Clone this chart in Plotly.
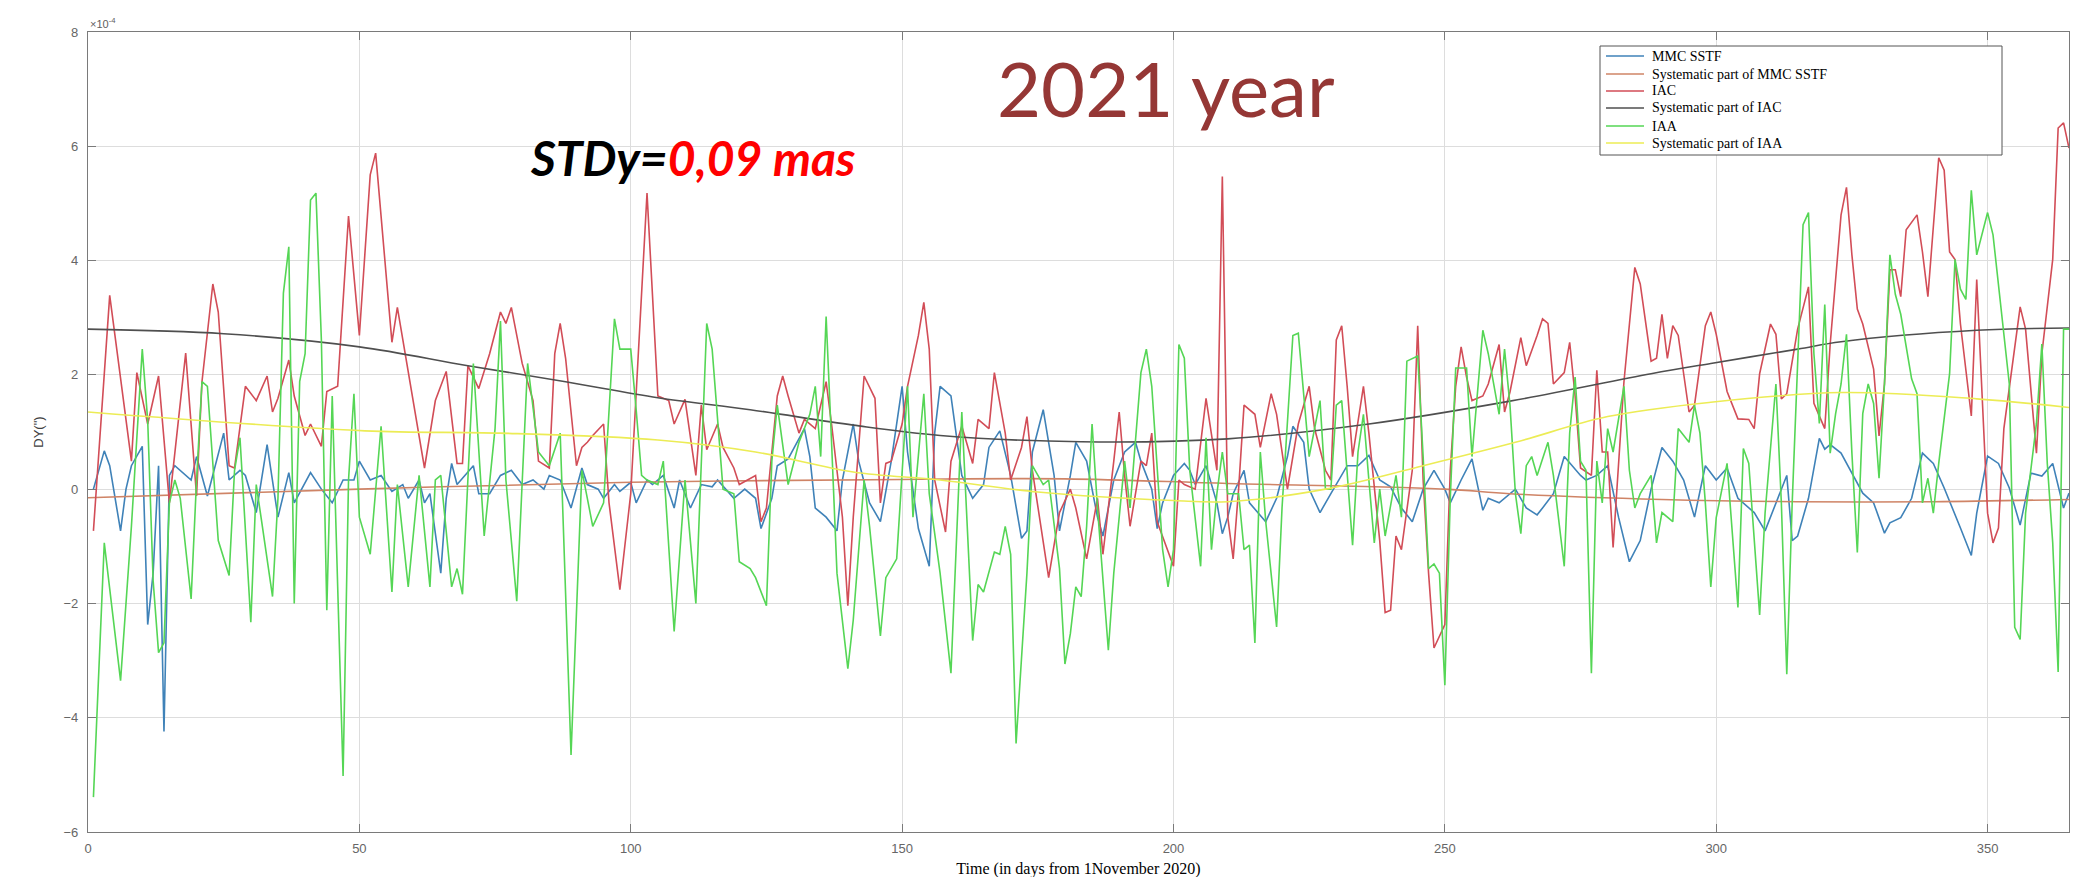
import plotly.graph_objects as go

# ---------------- data (DY in units of 1e-4 arcsec) ----------------
mmc_points = [(1,0),(3,0.67),(4,0.41),(6,-0.73),(7,0),(8,0.41),(10,0.75),(11,-2.37),(12,-1.47),(13,0.41),
 (14,-4.24),(15,0.24),(16,0.41),(17,0.33),(19,0.16),(20,0.57),(22,-0.12),(25,0.98),(26,0.16),(28,0.33),
 (29,0.24),(31,-0.41),(33,0.78),(35,-0.49),(37,0.29),(38,-0.24),(41,0.29),(43,0),(45,-0.24),(47,0.16),
 (49,0.16),(50,0.49),(52,0.16),(54,0.24),(56,-0.04),(58,0.08),(59,-0.16),(61,0.16),(62,-0.24),(63,-0.08),
 (65,-1.47),(66,-0.16),(67,0.45),(68,0.08),(71,0.41),(72,-0.08),(74,-0.08),(76,0.24),(78,0.33),(80,0.08),
 (82,0.16),(84,0),(85,0.24),(87,0.16),(89,-0.33),(91,0.37),(92,0.08),(94,0),(95,-0.16),(97,0.08),(98,-0.04),
 (100,0.12),(101,-0.24),(103,0.16),(104,0.08),(106,0.24),(108,-0.33),(109,0.16),(111,-0.33),(113,0.08),
 (115,0.04),(116,0.16),(119,-0.16),(121,0),(123,-0.16),(124,-0.69),(126,-0.16),(127,0.41),(129,0.53),
 (132,1.06),(133,0.57),(134,-0.33),(136,-0.49),(138,-0.73),(139,0.16),(141,1.14),(142,0.49),(144,-0.24),
 (146,-0.57),(148,0.49),(150,1.8),(151,0.65),(153,-0.69),(155,-1.35),(156,0.98),(157,1.8),(159,1.63),
 (161,0.24),(163,-0.16),(165,0.08),(166,0.73),(168,1.02),(170,0.24),(172,-0.86),(173,-0.73),(174,0.65),
 (176,1.39),(178,0.24),(179,-0.73),(181,0.24),(182,0.82),(184,0.49),(186,-0.49),(187,-0.82),(189,0.16),
 (191,0.65),(193,0.82),(194,0.49),(196,0),(197,-0.69),(198,-0.24),(200,0.24),(202,0.45),(203,0.33),
 (204,0.08),(206,0.41),(208,-0.24),(209,-0.78),(210,-0.49),(211,-0.08),(213,0.33),(214,-0.24),(217,-0.57),
 (219,-0.16),(221,0.57),(222,1.1),(224,0.82),(225,0),(227,-0.41),(229,-0.08),(232,0.41),(234,0.41),
 (236,0.59),(238,0.16),(240,0.04),(242,-0.33),(244,-0.57),(246,0),(248,0.33),(250,0),(251,-0.24),(253,0.16),
 (255,0.53),(257,-0.37),(258,-0.16),(260,-0.24),(262,-0.08),(263,0),(265,-0.33),(267,-0.45),(268,-0.33),
 (270,-0.08),(272,0.57),(275,0.24),(276,0.16),(278,0.24),(280,0.41),(282,-0.49),(284,-1.27),(286,-0.9),
 (288,0),(290,0.73),(292,0.49),(294,0.16),(296,-0.49),(298,0.41),(300,0.16),(302,0.37),(304,-0.16),
 (307,-0.41),(309,-0.73),(311,-0.24),(313,0.24),(314,-0.9),(315,-0.82),(317,-0.16),(319,0.89),(320,0.7),
 (321,0.78),(323,0.63),(324,0.45),(326,0.1),(327,-0.07),(329,-0.24),(331,-0.77),(332,-0.59),(334,-0.5),
 (336,-0.16),(338,0.63),(340,0.45),(342,0.02),(345,-0.68),(347,-1.16),(348,-0.42),(350,0.58),(352,0.45),
 (354,0.02),(356,-0.63),(358,0.28),(360,0.23),(362,0.45),(364,-0.33),(365,-0.07)]

mmc_sys_points = [(0,-0.15),(50,0.0),(100,0.12),(150,0.17),(180,0.18),(210,0.1),(250,0.0),(262,-0.08),
 (290,-0.18),(315,-0.22),(340,-0.22),(365,-0.18)]

iac_points = [(1,-0.73),(4,3.39),(8,0.49),(9,2.04),(11,1.14),(13,1.98),(15,-0.24),(18,2.38),(20,-0.12),
 (21,1.88),(23,3.59),(24,3.1),(26,0.41),(27,0.37),(29,1.8),(31,1.55),(33,1.98),(34,1.35),(35,1.59),(37,2.26),
 (38,1.63),(40,0.94),(41,1.14),(43,0.75),(44,1.71),(46,1.8),(48,4.78),(50,2.69),(52,5.5),(53,5.88),(56,2.57),
 (57,3.18),(62,0.37),(64,1.55),(66,2.06),(68,0.45),(69,0.45),(70,2.16),(72,1.76),(74,2.37),(76,3.1),(77,2.9),
 (78,3.18),(80,2.2),(82,1.55),(83,0.49),(85,0.37),(86,2.37),(87,2.9),(88,2.29),(90,0.41),(91,0.73),(92,0.82),
 (93,0.94),(95,1.14),(96,-0.24),(98,-1.76),(100,-0.08),(103,5.18),(105,1.63),(107,1.55),(108,1.14),(110,1.57),
 (112,0.24),(113,1.47),(114,0.69),(116,1.14),(117,0.73),(119,0.37),(120,0.08),(123,0.24),(124,-0.57),
 (125,-0.33),(127,1.63),(128,1.98),(129,1.63),(131,0.98),(132,1.22),(134,1.06),(136,1.88),(137,1.14),
 (139,-0.49),(140,-2.04),(141,-0.49),(143,1.98),(145,1.59),(146,-0.24),(147,0.45),(148,0.49),(150,1.14),
 (151,1.8),(153,2.69),(154,3.27),(155,2.45),(156,0.16),(158,-0.75),(159,0.49),(161,1.1),(163,0.45),(164,1.22),
 (166,1.06),(167,2.04),(169,0.98),(170,0.16),(172,0.73),(173,1.27),(174,0.33),(177,-1.55),(179,-0.41),
 (181,0.0),(182,-0.33),(184,-1.22),(186,-0.16),(187,-1.14),(189,0.49),(190,1.35),(191,0.24),(192,-0.65),
 (194,0.49),(195,0.41),(196,0.98),(197,-0.57),(200,-1.35),(201,0.16),(202,0.08),(204,0.0),(206,1.59),
 (208,0.33),(209,5.47),(210,-0.49),(211,-1.22),(212,0.0),(213,1.47),(215,1.31),(216,0.73),(218,1.67),
 (219,1.31),(221,0.0),(223,1.14),(225,1.8),(226,1.06),(228,0.33),(229,0.16),(230,2.61),(231,2.86),(232,1.8),
 (233,0.57),(235,1.8),(236,0.98),(238,-0.9),(239,-2.16),(240,-2.12),(241,-0.82),(242,-1.06),(244,0.33),
 (245,2.86),(246,0.16),(247,-1.47),(248,-2.78),(250,-2.37),(251,0.33),(252,1.8),(253,2.49),(254,1.96),
 (255,1.55),(257,1.63),(258,1.84),(260,2.53),(261,1.35),(262,1.7),(264,2.65),(265,2.16),(267,2.69),(268,2.98),
 (269,2.9),(270,1.84),(272,2.04),(273,2.57),(274,1.63),(275,0.37),(277,0.24),(278,2.08),(279,0.65),(280,0.65),
 (281,-1.02),(283,1.88),(285,3.88),(286,3.59),(288,2.24),(289,2.29),(290,3.06),(291,2.29),(292,2.86),
 (293,2.69),(295,1.35),(296,1.47),(298,2.86),(299,3.1),(300,2.71),(301,2.19),(302,1.71),(304,1.23),(306,1.22),
 (307,1.06),(308,2.02),(310,2.89),(311,2.71),(312,1.58),(313,1.67),(315,2.8),(316,3.15),(317,3.54),(318,1.5),
 (320,1.06),(321,2.54),(323,4.8),(324,5.28),(325,4.1),(326,3.15),(327,2.89),(329,2.1),(330,0.93),(331,1.84),
 (332,3.84),(333,3.84),(334,3.37),(335,4.54),(337,4.8),(338,4.15),(339,3.37),(341,5.8),(342,5.58),(343,4.15),
 (344,4.02),(345,2.89),(347,1.28),(348,3.67),(349,1.5),(350,-0.42),(351,-0.94),(352,-0.68),(353,1.06),
 (355,2.54),(356,3.19),(357,2.8),(359,0.63),(360,2.37),(361,3.23),(362,4.02),(363,6.32),(364,6.41),(365,5.97)]

iac_sys_points = [(0,2.8),(25,2.72),(50,2.49),(70,2.16),(88,1.88),(105,1.6),(122,1.39),(141,1.12),(157,0.94),
 (183,0.83),(210,0.88),(236,1.14),(262,1.54),(288,2.02),(299,2.2),(315,2.45),(323,2.58),(348,2.78),(365,2.82)]

iaa_points = [(1,-5.39),(3,-0.94),(6,-3.35),(8,-0.65),(10,2.45),(11,1.2),(12,-1.6),(13,-2.86),(14,-2.69),
 (15,-0.24),(16,0.16),(17,-0.16),(19,-1.92),(20,0.16),(21,1.88),(22,1.8),(24,-0.9),(26,-1.51),(27,0.33),
 (28,0.9),(30,-2.33),(31,0.08),(32,-0.57),(34,-1.88),(35,-0.16),(36,3.43),(37,4.24),(38,-2.0),(39,1.88),
 (40,2.37),(41,5.06),(42,5.18),(43,2.61),(44,-2.12),(45,1.63),(47,-5.02),(48,0.16),(49,1.67),(50,-0.49),
 (52,-1.14),(54,1.1),(56,-1.8),(57,0.08),(59,-1.71),(61,0.24),(63,-1.71),(64,0.16),(65,0.24),(67,-1.71),
 (68,-1.39),(69,-1.84),(71,2.2),(73,-0.82),(75,1.06),(76,2.94),(77,0.16),(79,-1.96),(81,2.2),(83,0.65),
 (85,0.41),(87,0.98),(89,-4.65),(91,0.33),(93,-0.65),(95,-0.24),(97,2.98),(98,2.45),(100,2.45),(101,1.39),
 (102,0.24),(103,0.16),(105,0.08),(106,0.49),(108,-2.49),(110,0.16),(112,-2.0),(114,2.9),(115,2.45),(117,0.0),
 (119,-0.08),(120,-1.27),(122,-1.39),(123,-1.55),(125,-2.04),(126,0.49),(127,1.47),(129,0.08),(131,0.82),
 (133,1.31),(134,1.8),(135,0.57),(136,3.02),(137,0.82),(138,-1.47),(140,-3.14),(141,-2.29),(143,0.16),
 (144,-0.65),(146,-2.57),(147,-1.55),(149,-1.22),(151,1.8),(152,-0.49),(154,1.67),(155,-0.08),(157,-1.47),
 (159,-3.22),(161,1.35),(163,-2.65),(164,-1.67),(165,-1.8),(167,-1.1),(168,-1.14),(169,-0.65),(170,-1.14),
 (171,-4.45),(173,-1.47),(174,0.41),(176,0.08),(177,0.16),(179,-1.39),(180,-3.06),(181,-2.53),(182,-1.71),
 (183,-1.88),(184,-0.65),(185,1.14),(186,-0.33),(188,-2.82),(189,-1.47),(191,0.49),(192,-0.33),(194,2.04),
 (195,2.45),(196,1.8),(198,-1.06),(199,-1.71),(200,-1.06),(201,2.53),(202,2.29),(203,0.33),(205,-1.35),
 (206,0.9),(207,-1.06),(208,-0.08),(209,0.65),(210,-0.08),(212,-0.08),(213,-1.06),(214,-0.98),(215,-2.69),
 (216,0.65),(217,-0.57),(219,-2.41),(220,-0.33),(222,2.69),(223,2.73),(224,1.63),(225,0.57),(227,1.55),
 (228,0.0),(229,0.0),(230,1.47),(231,1.55),(233,-0.98),(234,0.65),(235,1.31),(236,0.16),(237,-0.94),(238,0.0),
 (239,-0.82),(241,0.24),(242,-0.49),(243,2.24),(245,2.33),(246,0.57),(247,-1.39),(248,-1.31),(249,-1.47),
 (250,-3.43),(251,-0.16),(252,2.12),(254,2.12),(255,0.57),(257,2.78),(258,2.37),(260,1.31),(261,2.45),
 (262,1.47),(263,-0.08),(264,-0.78),(265,0.41),(266,0.57),(267,0.24),(269,0.82),(270,0.24),(272,-1.35),
 (273,0.98),(274,1.96),(275,0.49),(276,0.33),(277,-3.22),(278,0.49),(279,-0.24),(280,1.06),(281,0.65),
 (283,1.8),(284,0.33),(285,-0.33),(286,-0.08),(288,0.24),(289,-0.94),(290,-0.41),(292,-0.57),(293,1.06),
 (295,0.82),(296,1.47),(297,0.98),(298,-0.24),(299,-1.71),(300,-0.5),(302,0.45),(304,-2.07),(305,0.71),
 (306,0.45),(308,-2.2),(309,-0.42),(311,1.84),(312,-0.24),(313,-3.24),(314,-0.24),(316,4.63),(317,4.84),
 (318,2.37),(319,1.15),(320,3.23),(321,0.63),(322,1.32),(323,1.84),(324,2.71),(325,0.63),(326,-1.11),
 (327,1.32),(328,1.84),(329,1.5),(330,0.19),(331,1.84),(332,4.1),(333,3.41),(334,3.06),(336,1.93),(337,1.67),
 (338,-0.24),(339,0.19),(340,-0.42),(341,0.45),(343,2.02),(344,4.02),(345,3.5),(346,3.32),(347,5.23),
 (348,4.1),(349,4.45),(350,4.84),(351,4.45),(353,2.63),(354,1.84),(355,-2.42),(356,-2.63),(357,-0.42),
 (359,1.15),(360,2.54),(361,0.45),(362,-0.94),(363,-3.2),(364,2.8),(365,2.8)]

iaa_sys_points = [(0,1.35),(51,1.02),(76,0.98),(105,0.86),(123,0.65),(141,0.3),(157,0.16),(175,-0.05),
 (200,-0.2),(210,-0.22),(228,0.0),(246,0.41),(263,0.82),(280,1.27),(299,1.52),(323,1.69),(348,1.58),(365,1.43)]

x_ticks = [0, 50, 100, 150, 200, 250, 300, 350]
y_ticks = [-6, -4, -2, 0, 2, 4, 6, 8]

series_names = ["MMC SSTF", "Systematic part of MMC SSTF", "IAC",
                "Systematic part of IAC", "IAA", "Systematic part of IAA"]
series_points = [mmc_points, mmc_sys_points, iac_points, iac_sys_points, iaa_points, iaa_sys_points]
series_colors = ["#3f82b8", "#cf8466", "#d24d57", "#4f4f4f", "#55d655", "#ecec55"]
series_shapes = ["linear", "spline", "linear", "spline", "linear", "spline"]

# ---------------- figure geometry ----------------
W, H = 2080, 877
ML, MR, MT, MB = 80, 19, 24, 53
PW, PH = W - ML - MR, H - MT - MB


def px(xpix):
    return (xpix - ML) / PW


def py(ypix):
    return (H - MB - ypix) / PH


fig = go.Figure()
for name, pts, color, shape in zip(series_names, series_points, series_colors, series_shapes):
    xs = [p[0] for p in pts]
    ys = [p[1] for p in pts]
    fig.add_trace(go.Scatter(x=xs, y=ys, mode="lines", name=name, showlegend=False,
                             line=dict(color=color, width=1.6, shape=shape)))

axis_common = dict(showgrid=True, gridcolor="#dddddd", gridwidth=1, zeroline=False,
                   showline=True, linecolor="#7a7a7a", linewidth=1.2, mirror="ticks",
                   ticks="inside", ticklen=8, tickcolor="#7a7a7a", automargin=False,
                   tickfont=dict(family="Liberation Sans", size=13, color="#666666"))

fig.update_layout(
    width=W, height=H,
    margin=dict(l=ML, r=MR, t=MT, b=MB),
    paper_bgcolor="white", plot_bgcolor="white",
    showlegend=False,
    xaxis=dict(range=[0, 365], tickvals=x_ticks, ticklabelstandoff=4, **axis_common,
               title=dict(text="Time (in days from 1November 2020)",
                          font=dict(family="Liberation Serif", size=16, color="black"), standoff=8)),
    yaxis=dict(range=[-6, 8], tickvals=y_ticks, ticklabelstandoff=6, **axis_common,
               title=dict(text='DY(")', font=dict(family="Liberation Sans", size=13, color="#404040"),
                          standoff=16)),
)

# ---------------- legend box (drawn as in the original figure) ----------------
LX0, LX1, LY0, LY1 = 1592, 1994, 38, 147
fig.add_shape(type="rect", xref="paper", yref="paper", x0=px(LX0), x1=px(LX1), y0=py(LY1), y1=py(LY0),
              line=dict(color="#555555", width=1), fillcolor="white", layer="above")
row_y = [48, 66, 83, 100, 118, 135]
for name, color, ry in zip(series_names, series_colors, row_y):
    fig.add_shape(type="line", xref="paper", yref="paper", x0=px(1598), x1=px(1636), y0=py(ry), y1=py(ry),
                  line=dict(color=color, width=1.5), layer="above")
    fig.add_annotation(xref="paper", yref="paper", x=px(1642), y=py(ry), xanchor="left", yanchor="middle",
                       text=name, showarrow=False,
                       font=dict(family="Liberation Serif", size=14, color="black"))

fig.add_annotation(xref="paper", yref="paper", x=0.0, y=1.0, xanchor="left", yanchor="bottom",
                   text="×10<sup>-4</sup>", showarrow=False,
                   font=dict(family="Liberation Sans", size=11, color="#606060"))
fig.add_annotation(xref="paper", yref="paper", x=px(1158), y=py(80), xanchor="center", yanchor="middle",
                   text="2021 year", showarrow=False,
                   font=dict(family="Lato", size=76, color="#953735"))
fig.add_annotation(xref="paper", yref="paper", x=px(520), y=py(150), xanchor="left", yanchor="middle",
                   text="<b><i>STDy=<span style='color:#ff0000'>0,09 mas</span></i></b>", showarrow=False,
                   font=dict(family="Lato", size=48, color="black"))

fig.write_html("out.html")
